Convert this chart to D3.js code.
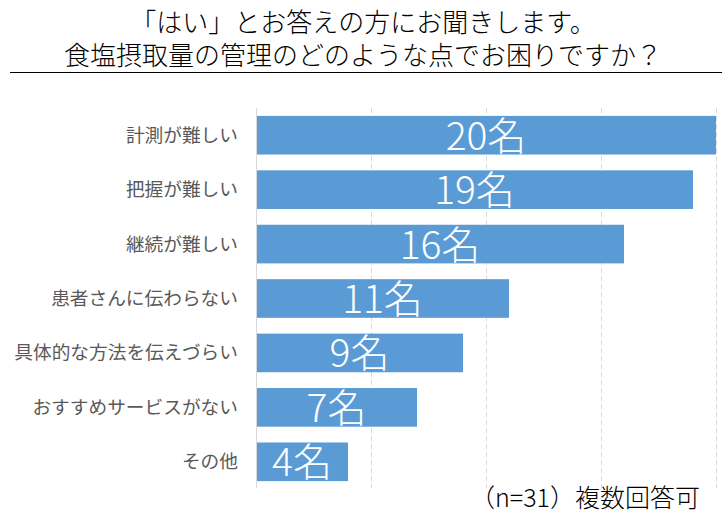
<!DOCTYPE html>
<html><head><meta charset="utf-8">
<script src="https://cdn.jsdelivr.net/npm/d3@7"></script>
<style>body{margin:0;background:#fff}svg{display:block}text{font-family:"Noto Sans CJK JP","Noto Sans",sans-serif}</style>
</head><body><svg id="c" width="725" height="529"></svg>
<script>
const categories = ["計測が難しい","把握が難しい","継続が難しい","患者さんに伝わらない","具体的な方法を伝えづらい","おすすめサービスがない","その他"];
const values = [20,19,16,11,9,7,4];
const ticks = [0,5,10,15,20];
const titleLines = ["「はい」とお答えの方にお聞きします。","食塩摂取量の管理のどのような点でお困りですか？"];
const note = "（n=31）複数回答可";

const svg = d3.select("#c");
const x = d3.scaleLinear().domain([0,20]).range([256,716]);
const y = d3.scaleBand().domain(categories).range([108,489]).paddingInner(0.29).paddingOuter(0.145);

svg.selectAll("text.title").data(titleLines).join("text").attr("class","title")
  .attr("x",363).attr("y",(d,i)=>32+i*32.5).attr("text-anchor","middle")
  .attr("font-size",26).attr("font-weight",300).attr("fill","#000").text(d=>d);
svg.append("line").attr("x1",10).attr("x2",722).attr("y1",72.5).attr("y2",72.5).attr("stroke","#000").attr("stroke-width",1);

svg.selectAll("line.grid").data(ticks.slice(1)).join("line").attr("class","grid")
  .attr("x1",d=>x(d)+0.5).attr("x2",d=>x(d)+0.5).attr("y1",108).attr("y2",488)
  .attr("stroke","#d9d9d9").attr("stroke-dasharray","5,3");

svg.selectAll("rect.bar").data(values).join("rect").attr("class","bar")
  .attr("x",x(0)).attr("y",(d,i)=>y(categories[i])).attr("width",d=>x(d)-x(0))
  .attr("height",y.bandwidth()).attr("fill","#5b9bd5");

svg.append("line").attr("x1",x(0)+0.5).attr("x2",x(0)+0.5).attr("y1",108).attr("y2",488)
  .attr("stroke","#d9d9d9");

svg.selectAll("text.cat").data(categories).join("text").attr("class","cat")
  .attr("x",238).attr("y",d=>y(d)+y.bandwidth()/2).attr("dy","0.35em").attr("text-anchor","end")
  .attr("font-size",18.7).attr("fill","#595959").text(d=>d);

svg.selectAll("text.val").data(values).join("text").attr("class","val")
  .attr("x",d=>(x(0)+x(d))/2).attr("y",(d,i)=>y(categories[i])+y.bandwidth()/2).attr("dy","0.37em")
  .attr("text-anchor","middle").attr("font-size",39).attr("font-weight",300).attr("fill","#fff")
  .text(d=>d+"名");

svg.append("text").attr("x",700).attr("y",507).attr("text-anchor","end").attr("font-size",25)
  .attr("font-weight",300).attr("fill","#000").text(note);
</script></body></html>
